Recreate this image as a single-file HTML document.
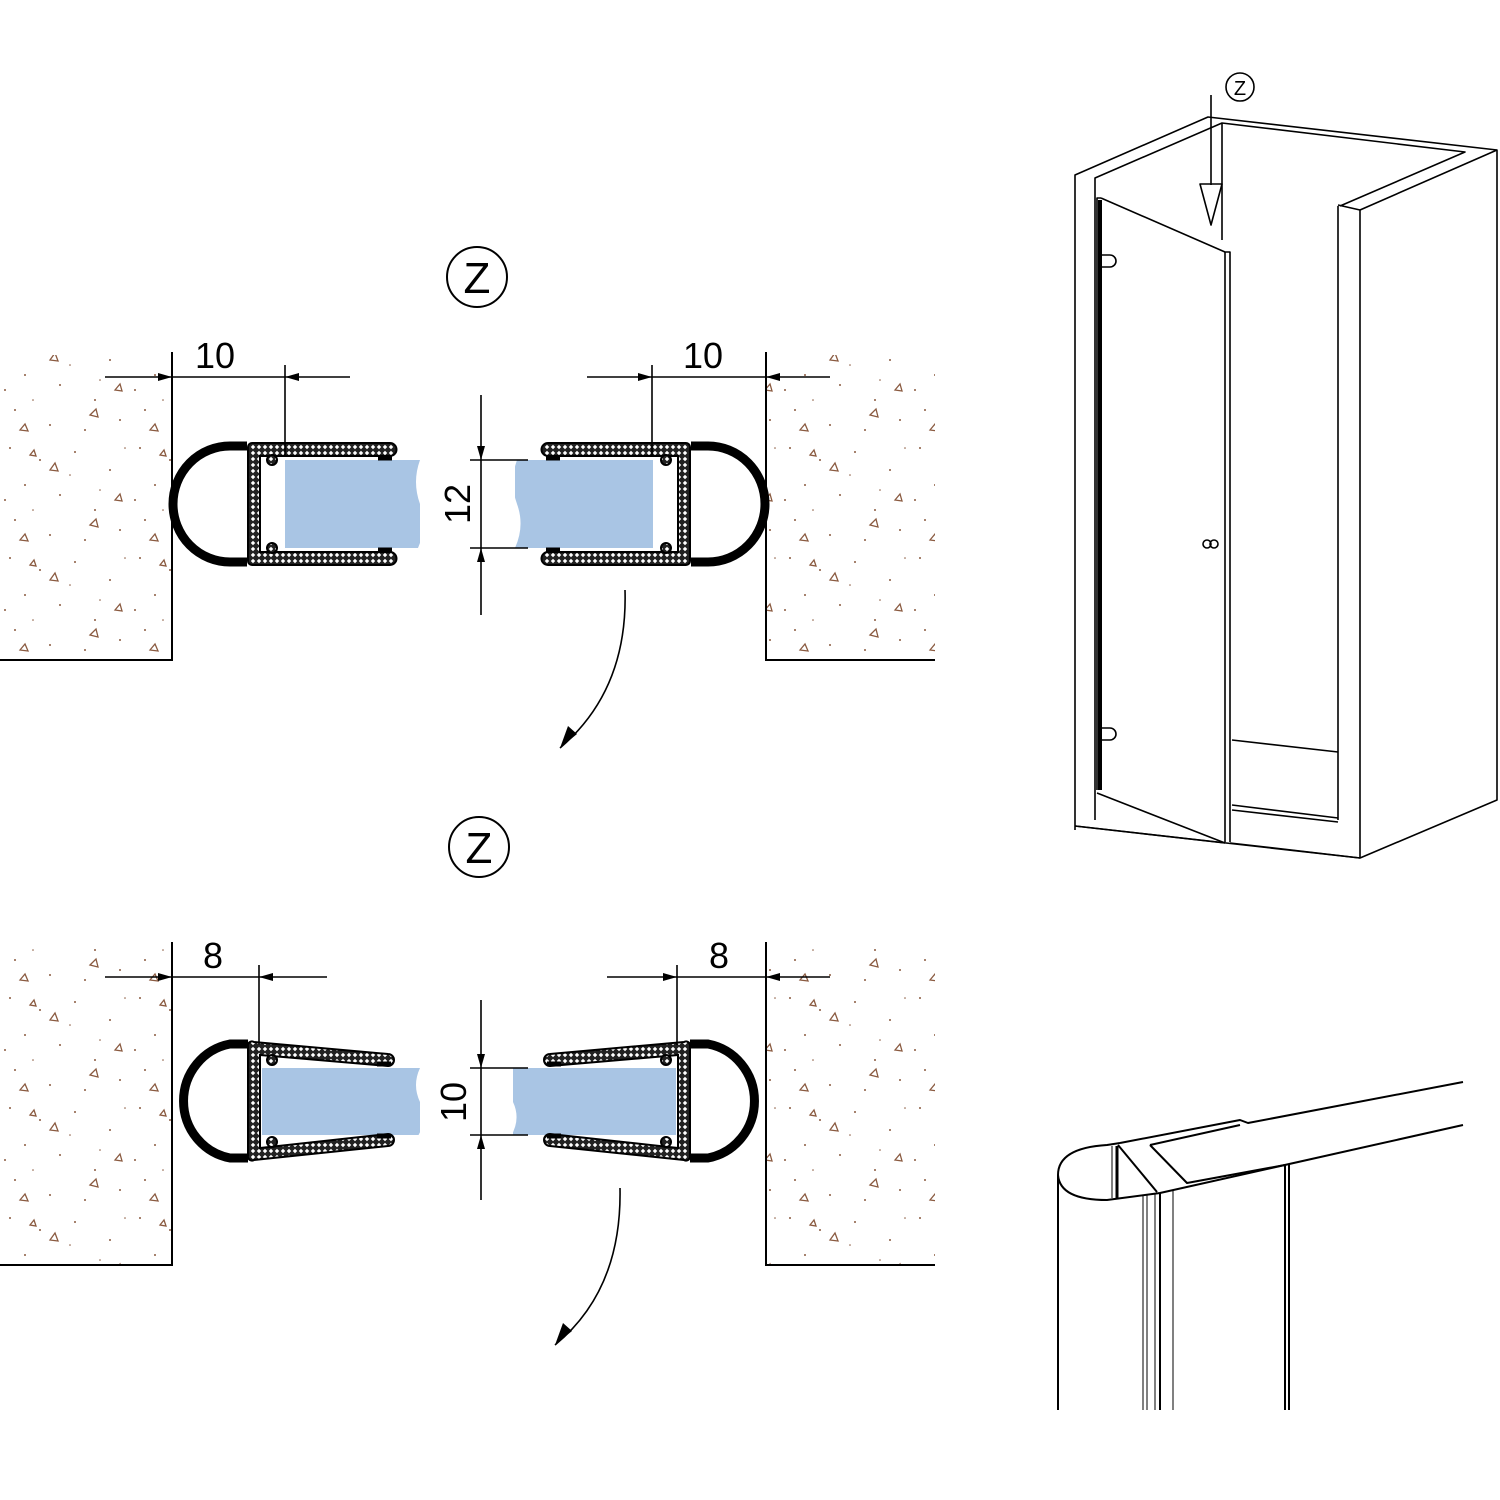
<!DOCTYPE html>
<html><head><meta charset="utf-8"><style>html,body{margin:0;padding:0;background:#fff}svg{display:block}</style></head>
<body>
<svg width="1500" height="1500" viewBox="0 0 1500 1500" xmlns="http://www.w3.org/2000/svg" font-family="Liberation Sans, DejaVu Sans, sans-serif">
<defs>
<pattern id="hx" width="6" height="6" patternUnits="userSpaceOnUse">
<rect width="6" height="6" fill="#222"/><path d="M3,0.8 L5.2,3 L3,5.2 L0.8,3Z" fill="#fff"/>
</pattern>
<pattern id="sand" width="130" height="110" patternUnits="userSpaceOnUse">
<g fill="#8a5a40">
<circle cx="10" cy="8" r="1"/><circle cx="40" cy="20" r="1"/><circle cx="75" cy="12" r="1"/><circle cx="110" cy="30" r="1"/>
<circle cx="25" cy="45" r="1"/><circle cx="60" cy="55" r="1"/><circle cx="95" cy="70" r="1"/><circle cx="15" cy="80" r="1"/>
<circle cx="50" cy="95" r="1"/><circle cx="120" cy="90" r="1"/><circle cx="85" cy="100" r="1"/><circle cx="5" cy="60" r="1"/>
<circle cx="33" cy="70" r="0.8"/><circle cx="70" cy="35" r="0.8"/><circle cx="100" cy="50" r="0.8"/><circle cx="125" cy="8" r="0.8"/>
</g>
<g fill="none" stroke="#8a5a40" stroke-width="1.3">
<path d="M50,30 l5,-7 l3,8z"/><path d="M90,85 l6,-6 l2,8z"/><path d="M20,100 l5,-6 l3,7z"/><path d="M115,60 l5,-6 l2,7z"/><path d="M30,15 l4,-5 l2,6z"/>
</g>
</pattern>
</defs>

<!-- walls -->
<g stroke="#000" stroke-width="2" fill="none">
<rect x="0" y="355" width="171" height="304" fill="url(#sand)" stroke="none"/>
<rect x="767" y="355" width="168" height="304" fill="url(#sand)" stroke="none"/>
<polyline points="172,352 172,660 0,660"/>
<polyline points="766,352 766,660 935,660"/>
<rect x="0" y="945" width="171" height="319" fill="url(#sand)" stroke="none"/>
<rect x="767" y="945" width="168" height="319" fill="url(#sand)" stroke="none"/>
<polyline points="172,942 172,1265 0,1265"/>
<polyline points="766,942 766,1265 935,1265"/>
</g>

<!-- Z circles -->
<g fill="none" stroke="#000" stroke-width="2">
<circle cx="477" cy="277" r="30"/><circle cx="479" cy="847" r="30"/>
</g>
<text x="477" y="293" font-size="44" text-anchor="middle">Z</text>
<text x="479" y="863" font-size="44" text-anchor="middle">Z</text>

<!-- top seals -->
<g transform="translate(172,504)">
<path d="M75,-58 H58 A57,58 0 0 0 58,58 H75" fill="#fff" stroke="#000" stroke-width="9"/>
<rect x="113" y="-44" width="135" height="88" fill="#a9c5e4"/>
<path d="M80,-61 H218 a6,6 0 0 1 0,13 H88 V48 H218 a6,6 0 0 1 0,13 H80 a4,4 0 0 1 -4,-4 V-57 a4,4 0 0 1 4,-4Z" fill="url(#hx)" stroke="#000" stroke-width="2" fill-rule="evenodd"/>
<circle cx="100" cy="-44" r="5" fill="url(#hx)" stroke="#000" stroke-width="2"/>
<circle cx="100" cy="44" r="5" fill="url(#hx)" stroke="#000" stroke-width="2"/>
<path d="M206,-46 h14" stroke="#000" stroke-width="5"/><path d="M206,46 h14" stroke="#000" stroke-width="5"/>
</g>
<g transform="translate(766,504) scale(-1,1)">
<path d="M75,-58 H58 A57,58 0 0 0 58,58 H75" fill="#fff" stroke="#000" stroke-width="9"/>
<rect x="113" y="-44" width="138" height="88" fill="#a9c5e4"/>
<path d="M80,-61 H218 a6,6 0 0 1 0,13 H88 V48 H218 a6,6 0 0 1 0,13 H80 a4,4 0 0 1 -4,-4 V-57 a4,4 0 0 1 4,-4Z" fill="url(#hx)" stroke="#000" stroke-width="2" fill-rule="evenodd"/>
<circle cx="100" cy="-44" r="5" fill="url(#hx)" stroke="#000" stroke-width="2"/>
<circle cx="100" cy="44" r="5" fill="url(#hx)" stroke="#000" stroke-width="2"/>
<path d="M206,-46 h14" stroke="#000" stroke-width="5"/><path d="M206,46 h14" stroke="#000" stroke-width="5"/>
</g>
<path d="M420,460 q-8,22 0,44 q8,22 -2,44 h10 v-88z" fill="#fff"/>
<path d="M517,460 q-8,22 0,44 q8,22 -2,44 h-10 v-88z" fill="#fff"/>

<!-- bottom seals -->
<g transform="translate(172,1100)">
<path d="M76,-56 H58 A57,58 0 0 0 58,58 H76" fill="#fff" stroke="#000" stroke-width="9"/>
<rect x="90" y="-32" width="158" height="67" fill="#a9c5e4"/>
<path d="M82,-58 L216,-46 a6,6 0 0 1 0,12 L88,-45 V48 L216,34 a6,6 0 0 1 0,12 L82,60 a4,4 0 0 1 -6,-4 V-54 a4,4 0 0 1 6,-4Z" fill="url(#hx)" stroke="#000" stroke-width="2" fill-rule="evenodd"/>
<circle cx="100" cy="-40" r="5" fill="url(#hx)" stroke="#000" stroke-width="2"/>
<circle cx="100" cy="42" r="5" fill="url(#hx)" stroke="#000" stroke-width="2"/>
<path d="M205,-36 h14" stroke="#000" stroke-width="5"/><path d="M205,36 h14" stroke="#000" stroke-width="5"/>
</g>
<g transform="translate(766,1100) scale(-1,1)">
<path d="M76,-56 H58 A57,58 0 0 0 58,58 H76" fill="#fff" stroke="#000" stroke-width="9"/>
<rect x="90" y="-32" width="163" height="67" fill="#a9c5e4"/>
<path d="M82,-58 L216,-46 a6,6 0 0 1 0,12 L88,-45 V48 L216,34 a6,6 0 0 1 0,12 L82,60 a4,4 0 0 1 -6,-4 V-54 a4,4 0 0 1 6,-4Z" fill="url(#hx)" stroke="#000" stroke-width="2" fill-rule="evenodd"/>
<circle cx="100" cy="-40" r="5" fill="url(#hx)" stroke="#000" stroke-width="2"/>
<circle cx="100" cy="42" r="5" fill="url(#hx)" stroke="#000" stroke-width="2"/>
<path d="M205,-36 h14" stroke="#000" stroke-width="5"/><path d="M205,36 h14" stroke="#000" stroke-width="5"/>
</g>
<path d="M420,1068 q-8,17 0,34 q8,17 -2,34 h10 v-68z" fill="#fff"/>
<path d="M513,1068 q-8,17 0,34 q8,17 -2,34 h-10 v-68z" fill="#fff"/>

<!-- dimensions -->
<g stroke="#000" stroke-width="1.6" fill="none">
<line x1="105" y1="377" x2="350" y2="377"/><line x1="285" y1="365" x2="285" y2="455"/>
<line x1="587" y1="377" x2="830" y2="377"/><line x1="652" y1="365" x2="652" y2="455"/>
<line x1="481" y1="395" x2="481" y2="615"/><line x1="470" y1="460" x2="528" y2="460"/><line x1="470" y1="548" x2="528" y2="548"/>
<line x1="105" y1="977" x2="327" y2="977"/><line x1="259" y1="965" x2="259" y2="1045"/>
<line x1="607" y1="977" x2="830" y2="977"/><line x1="677" y1="965" x2="677" y2="1045"/>
<line x1="481" y1="1000" x2="481" y2="1200"/><line x1="470" y1="1068" x2="528" y2="1068"/><line x1="470" y1="1135" x2="528" y2="1135"/>
<path d="M625,590 Q628,690 560,748"/>
<path d="M620,1188 Q622,1290 555,1345"/>
</g>
<g fill="#000">
<path d="M172,377 l-14,-4 v8z"/><path d="M285,377 l14,-4 v8z"/>
<path d="M652,377 l-14,-4 v8z"/><path d="M766,377 l14,-4 v8z"/>
<path d="M481,460 l-4,-14 h8z"/><path d="M481,548 l-4,14 h8z"/>
<path d="M172,977 l-14,-4 v8z"/><path d="M259,977 l14,-4 v8z"/>
<path d="M677,977 l-14,-4 v8z"/><path d="M766,977 l14,-4 v8z"/>
<path d="M481,1068 l-4,-14 h8z"/><path d="M481,1135 l-4,14 h8z"/>
<path d="M560,748 l8,-22 l9,8z"/><path d="M555,1345 l8,-22 l9,8z"/>
</g>
<g font-size="36">
<text x="215" y="368" text-anchor="middle">10</text>
<text x="703" y="368" text-anchor="middle">10</text>
<text x="213" y="968" text-anchor="middle">8</text>
<text x="719" y="968" text-anchor="middle">8</text>
<text transform="translate(470,504) rotate(-90)" text-anchor="middle">12</text>
<text transform="translate(466,1102) rotate(-90)" text-anchor="middle">10</text>
</g>

<!-- shower cabin -->
<g stroke="#000" stroke-width="1.6" fill="none" stroke-linejoin="round">
<polyline points="1075,830 1075,175 1208,117 1497,150 1497,800 1360,858 1075,826"/>
<polyline points="1095,820 1095,178 1222,123 1465,152 1340,206"/>
<line x1="1222" y1="123" x2="1222" y2="240"/>
<line x1="1338" y1="205" x2="1360" y2="210"/>
<polyline points="1338,206 1338,820"/>
<line x1="1360" y1="210" x2="1360" y2="858"/>
<line x1="1360" y1="210" x2="1497" y2="150"/>
<polyline points="1101,198 1225,252 1230,252 1230,842"/>
<line x1="1225" y1="252" x2="1225" y2="842"/>
<polyline points="1097,790 1097,198 1101,198"/>
<line x1="1097" y1="793" x2="1225" y2="843"/>
<line x1="1232" y1="740" x2="1338" y2="752"/>
<line x1="1232" y1="805" x2="1338" y2="818"/>
<line x1="1232" y1="810" x2="1338" y2="822"/>
<line x1="1075" y1="826" x2="1225" y2="843"/>
<line x1="1230" y1="843" x2="1360" y2="858"/>
<path d="M1100,255 h10 a6,6 0 0 1 0,12 h-10" />
<path d="M1100,728 h10 a6,6 0 0 1 0,12 h-10" />
<circle cx="1207" cy="544" r="4"/><circle cx="1214" cy="544" r="4"/>
<circle cx="1240" cy="87" r="14"/>
<line x1="1211" y1="95" x2="1211" y2="185"/>
<path d="M1200,184 L1222,184 L1211,225 Z"/>
</g>
<line x1="1100" y1="200" x2="1100" y2="790" stroke="#000" stroke-width="4"/>
<text x="1240" y="95" font-size="20" text-anchor="middle">Z</text>

<!-- profile 3D -->
<g stroke="#000" stroke-width="2" fill="none" stroke-linejoin="round">
<path d="M1058,1410 V1175 Q1058,1148 1107,1145 L1120,1143"/>
<path d="M1058,1175 Q1060,1200 1107,1200 L1160,1193"/>
<polyline points="1120,1143 1240,1120 1248,1123 1463,1082"/>
<line x1="1160" y1="1193" x2="1463" y2="1125"/>
<line x1="1118" y1="1145" x2="1157" y2="1192"/>
<polyline points="1150,1145 1187,1183 1285,1165"/>
<line x1="1150" y1="1145" x2="1240" y2="1125"/>
<line x1="1160" y1="1193" x2="1160" y2="1410"/>
<line x1="1285" y1="1165" x2="1285" y2="1410"/>
<line x1="1289" y1="1164" x2="1289" y2="1410"/>
<line x1="1143" y1="1195" x2="1143" y2="1410" stroke-width="1"/>
<line x1="1147" y1="1195" x2="1147" y2="1410" stroke-width="1"/>
<line x1="1155" y1="1193" x2="1155" y2="1410" stroke-width="1"/>
<line x1="1173" y1="1190" x2="1173" y2="1410" stroke-width="1"/>
<line x1="1112" y1="1146" x2="1112" y2="1198" stroke-width="1"/>
<line x1="1117" y1="1146" x2="1117" y2="1198" stroke-width="3"/>
</g>
</svg>
</body></html>
